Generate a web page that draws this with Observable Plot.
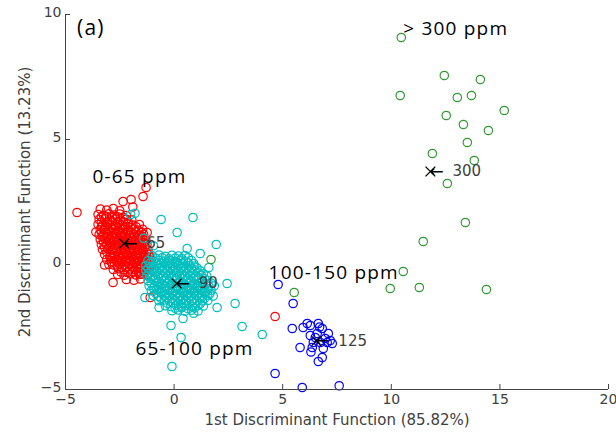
<!DOCTYPE html>
<html>
<head>
<meta charset="utf-8">
<script src="https://cdn.jsdelivr.net/npm/d3@7"></script>
<script src="https://cdn.jsdelivr.net/npm/@observablehq/plot@0.6"></script>
<style>
  html, body { margin: 0; padding: 0; background: white; }
</style>
</head>
<body>
<div id="chart"></div>
<script>
const xTicks = [-5, 0, 5, 10, 15, 20];
const yTicks = [-5, 0, 5, 10];
const xLabel = "1st Discriminant Function (85.82%)";
const yLabel = "2nd Discriminant Function (13.23%)";

// 0-65 ppm group (red)
const redPts = [
  [-3.4,2.22],[-3.1,2.18],[-2.8,2.24],[-2.5,2.15],
  [-3.5,2.0],[-3.25,1.97],[-3.0,2.03],[-2.75,1.98],[-2.5,2.02],[-2.2,1.96],
  [-3.45,1.8],[-3.2,1.83],[-2.95,1.78],[-2.7,1.82],[-2.45,1.77],[-2.2,1.81],[-1.95,1.79],
  [-3.5,1.6],[-3.3,1.57],[-3.05,1.62],[-2.85,1.58],[-2.6,1.61],[-2.4,1.57],[-2.15,1.62],[-1.9,1.58],[-1.6,1.6],
  [-3.4,1.4],[-3.2,1.43],[-3.0,1.38],[-2.8,1.42],[-2.55,1.37],[-2.35,1.41],[-2.1,1.38],[-1.85,1.42],[-1.65,1.37],[-1.45,1.41],
  [-3.45,1.2],[-3.25,1.17],[-3.05,1.22],[-2.85,1.18],[-2.65,1.21],[-2.45,1.17],[-2.25,1.22],[-2.05,1.18],[-1.85,1.21],[-1.6,1.17],[-1.4,1.2],
  [-3.4,1.0],[-3.2,1.03],[-2.95,0.98],[-2.75,1.02],[-2.55,0.97],[-2.35,1.01],[-2.15,0.98],[-1.95,1.03],[-1.75,0.97],[-1.55,1.01],[-1.3,0.98],
  [-3.35,0.8],[-3.1,0.77],[-2.9,0.82],[-2.7,0.78],[-2.5,0.81],[-2.3,0.77],[-2.1,0.82],[-1.9,0.78],[-1.7,0.81],[-1.5,0.77],[-1.25,0.8],
  [-3.3,0.6],[-3.05,0.63],[-2.85,0.58],[-2.65,0.62],[-2.45,0.57],[-2.25,0.61],[-2.05,0.58],[-1.85,0.62],[-1.65,0.57],[-1.45,0.61],[-1.2,0.58],
  [-3.2,0.4],[-2.95,0.37],[-2.75,0.42],[-2.55,0.38],[-2.35,0.41],[-2.15,0.37],[-1.95,0.42],[-1.75,0.38],[-1.55,0.41],[-1.35,0.37],[-1.15,0.4],
  [-3.1,0.2],[-2.85,0.23],[-2.65,0.18],[-2.45,0.22],[-2.25,0.17],[-2.05,0.21],[-1.85,0.18],[-1.65,0.22],[-1.45,0.17],[-1.25,0.21],[-1.05,0.18],
  [-3.0,0.0],[-2.75,-0.03],[-2.5,0.02],[-2.3,-0.02],[-2.1,0.03],[-1.9,-0.01],[-1.7,0.02],[-1.5,-0.03],[-1.3,0.01],[-1.1,-0.02],
  [-2.8,-0.2],[-2.55,-0.17],[-2.3,-0.22],[-2.05,-0.18],[-1.8,-0.21],[-1.6,-0.17],[-1.4,-0.22],[-1.15,-0.19],
  [-2.6,-0.4],[-2.3,-0.43],[-2.0,-0.38],[-1.75,-0.42],[-1.5,-0.39],[-1.25,-0.41],
  [-2.2,-0.6],[-1.85,-0.63],[-1.55,-0.58],
  [-3.35,1.9],[-3.1,1.92],[-2.85,1.88],[-2.6,1.91],[-2.35,1.89],
  [-3.35,1.7],[-3.1,1.68],[-2.85,1.72],[-2.6,1.69],[-2.35,1.71],[-2.1,1.68],
  [-3.35,1.5],[-3.15,1.52],[-2.9,1.48],[-2.7,1.51],[-2.5,1.49],[-2.25,1.52],[-2.0,1.48],[-1.75,1.51],
  [-3.35,1.3],[-3.15,1.28],[-2.95,1.32],[-2.75,1.29],[-2.55,1.31],[-2.35,1.28],[-2.15,1.32],[-1.95,1.29],[-1.75,1.31],[-1.5,1.29],
  [-3.3,1.1],[-3.1,1.12],[-2.85,1.08],[-2.65,1.11],[-2.45,1.09],[-2.25,1.12],[-2.05,1.08],[-1.85,1.11],[-1.65,1.09],[-1.45,1.12],
  [-3.25,0.9],[-3.0,0.88],[-2.8,0.92],[-2.6,0.89],[-2.4,0.91],[-2.2,0.88],[-2.0,0.92],[-1.8,0.89],[-1.6,0.91],[-1.4,0.88],
  [-3.2,0.7],[-2.95,0.72],[-2.75,0.68],[-2.55,0.71],[-2.35,0.69],[-2.15,0.72],[-1.95,0.68],[-1.75,0.71],[-1.55,0.69],[-1.35,0.72],
  [-3.1,0.5],[-2.85,0.48],[-2.65,0.52],[-2.45,0.49],[-2.25,0.51],[-2.05,0.48],[-1.85,0.52],[-1.65,0.49],[-1.45,0.51],[-1.25,0.48],
  [-2.95,0.3],[-2.75,0.32],[-2.55,0.28],[-2.35,0.31],[-2.15,0.29],[-1.95,0.32],[-1.75,0.28],[-1.55,0.31],[-1.35,0.29],[-1.15,0.32],
  [-2.9,0.1],[-2.6,0.08],[-2.4,0.12],[-2.2,0.09],[-2.0,0.11],[-1.8,0.08],[-1.6,0.12],[-1.4,0.09],[-1.2,0.11],
  [-2.6,-0.1],[-2.4,-0.12],[-2.15,-0.08],[-1.9,-0.11],[-1.7,-0.09],[-1.5,-0.12],[-1.25,-0.08],
  [-2.45,-0.3],[-2.15,-0.32],[-1.9,-0.28],[-1.6,-0.31],[-1.35,-0.29],
  [-4.47,2.08],[-1.29,3.08],[-1.43,2.72],[-2.35,2.52],[-1.98,2.6],[-1.9,2.3],[-1.24,1.28],
  [-2.81,-0.72],[-3.2,-0.02],[-1.1,-1.32],[4.65,-2.08],[-1.57,-0.38],[-3.6,1.3]
];

// 65-100 ppm group (cyan)
const cyanPts = [
  [-1.0,0.35],[-0.7,0.38],[-0.4,0.33],[-0.1,0.37],[0.2,0.34],[0.5,0.36],
  [-1.2,0.15],[-0.95,0.12],[-0.7,0.17],[-0.45,0.13],[-0.2,0.16],[0.05,0.12],[0.3,0.17],[0.55,0.13],[0.8,0.16],
  [-1.3,-0.05],[-1.05,-0.08],[-0.8,-0.03],[-0.55,-0.07],[-0.3,-0.04],[-0.05,-0.08],[0.2,-0.03],[0.45,-0.07],[0.7,-0.04],[0.95,-0.06],
  [-1.3,-0.25],[-1.05,-0.22],[-0.8,-0.27],[-0.55,-0.23],[-0.3,-0.26],[-0.05,-0.22],[0.2,-0.27],[0.45,-0.23],[0.7,-0.26],[0.95,-0.22],[1.2,-0.25],
  [-1.25,-0.45],[-1.0,-0.48],[-0.75,-0.43],[-0.5,-0.47],[-0.25,-0.44],[0.0,-0.48],[0.25,-0.43],[0.5,-0.47],[0.75,-0.44],[1.0,-0.48],[1.25,-0.43],[1.5,-0.46],
  [-1.2,-0.65],[-0.95,-0.62],[-0.7,-0.67],[-0.45,-0.63],[-0.2,-0.66],[0.05,-0.62],[0.3,-0.67],[0.55,-0.63],[0.8,-0.66],[1.05,-0.62],[1.3,-0.67],[1.55,-0.64],
  [-1.15,-0.85],[-0.9,-0.88],[-0.65,-0.83],[-0.4,-0.87],[-0.15,-0.84],[0.1,-0.88],[0.35,-0.83],[0.6,-0.87],[0.85,-0.84],[1.1,-0.88],[1.35,-0.83],[1.6,-0.87],[1.85,-0.85],
  [-1.05,-1.05],[-0.8,-1.02],[-0.55,-1.07],[-0.3,-1.03],[-0.05,-1.06],[0.2,-1.02],[0.45,-1.07],[0.7,-1.03],[0.95,-1.06],[1.2,-1.02],[1.45,-1.07],[1.7,-1.04],
  [-0.95,-1.25],[-0.7,-1.28],[-0.45,-1.23],[-0.2,-1.27],[0.05,-1.24],[0.3,-1.28],[0.55,-1.23],[0.8,-1.27],[1.05,-1.24],[1.3,-1.28],[1.55,-1.23],[1.8,-1.26],
  [-0.7,-1.45],[-0.45,-1.42],[-0.2,-1.47],[0.05,-1.43],[0.3,-1.46],[0.55,-1.42],[0.8,-1.47],[1.05,-1.43],[1.3,-1.46],[1.55,-1.44],
  [-0.4,-1.65],[-0.15,-1.68],[0.1,-1.63],[0.35,-1.67],[0.6,-1.64],[0.85,-1.68],[1.1,-1.63],[1.35,-1.66],
  [-0.1,-1.85],[0.2,-1.82],[0.5,-1.87],[0.8,-1.83],[1.1,-1.86],
  [-0.85,0.25],[-0.55,0.27],[-0.25,0.23],[0.05,0.26],[0.35,0.24],[0.65,0.27],
  [-1.1,0.05],[-0.85,0.07],[-0.6,0.03],[-0.35,0.06],[-0.1,0.04],[0.15,0.07],[0.4,0.03],[0.65,0.06],[0.9,0.04],
  [-1.2,-0.15],[-0.95,-0.13],[-0.7,-0.17],[-0.45,-0.14],[-0.2,-0.16],[0.05,-0.13],[0.3,-0.17],[0.55,-0.14],[0.8,-0.16],[1.05,-0.13],
  [-1.15,-0.35],[-0.9,-0.33],[-0.65,-0.37],[-0.4,-0.34],[-0.15,-0.36],[0.1,-0.33],[0.35,-0.37],[0.6,-0.34],[0.85,-0.36],[1.1,-0.33],[1.35,-0.37],
  [-1.1,-0.55],[-0.85,-0.53],[-0.6,-0.57],[-0.35,-0.54],[-0.1,-0.56],[0.15,-0.53],[0.4,-0.57],[0.65,-0.54],[0.9,-0.56],[1.15,-0.53],[1.4,-0.57],
  [-1.05,-0.75],[-0.8,-0.73],[-0.55,-0.77],[-0.3,-0.74],[-0.05,-0.76],[0.2,-0.73],[0.45,-0.77],[0.7,-0.74],[0.95,-0.76],[1.2,-0.73],[1.45,-0.77],[1.7,-0.74],
  [-0.95,-0.95],[-0.7,-0.93],[-0.45,-0.97],[-0.2,-0.94],[0.05,-0.96],[0.3,-0.93],[0.55,-0.97],[0.8,-0.94],[1.05,-0.96],[1.3,-0.93],[1.55,-0.97],
  [-0.85,-1.15],[-0.6,-1.13],[-0.35,-1.17],[-0.1,-1.14],[0.15,-1.16],[0.4,-1.13],[0.65,-1.17],[0.9,-1.14],[1.15,-1.16],[1.4,-1.13],[1.65,-1.17],
  [-0.6,-1.35],[-0.35,-1.33],[-0.1,-1.37],[0.15,-1.34],[0.4,-1.36],[0.65,-1.33],[0.9,-1.37],[1.15,-1.34],[1.4,-1.36],
  [-0.3,-1.55],[-0.05,-1.53],[0.2,-1.57],[0.45,-1.54],[0.7,-1.56],[0.95,-1.53],[1.2,-1.57],
  [0.05,-1.75],[0.35,-1.73],[0.65,-1.77],[0.95,-1.74],
  [-0.6,1.8],[0.87,1.88],[0.14,1.28],[0.6,0.64],[1.94,0.8],[1.2,0.44],[1.6,-0.12],[2.44,-0.76],
  [2.81,-1.56],[1.98,-1.72],[-0.14,-2.44],[0.41,-2.16],[0.9,-1.95],[0.32,-2.92],[-0.1,-4.08],
  [3.13,-2.48],[4.06,-2.8],[-1.34,-1.32],[-0.69,-1.72],[-2.0,2.0],[-1.8,2.05],[-1.4,1.05],[-0.95,0.75]
];

// 100-150 ppm group (blue)
const bluePts = [
  [4.79,-0.8],[5.48,-1.56],[5.44,-2.56],[5.8,-3.32],[4.65,-4.36],[5.9,-4.92],[7.6,-4.85],
  [6.13,-2.36],[5.94,-2.52],[6.27,-2.44],[6.64,-2.36],[6.82,-2.56],[7.1,-2.76],[7.19,-3.04],
  [7.28,-3.16],[6.87,-3.36],[6.82,-3.72],[6.64,-3.88],[6.36,-3.32],[6.5,-2.92],[6.59,-2.76],
  [6.96,-2.96],[6.73,-3.12],[6.41,-3.12],[6.27,-2.84],[7.05,-3.12],[6.7,-2.5],[6.3,-3.5]
];

// > 300 ppm group (green)
const greenPts = [
  [10.46,9.08],[12.44,7.56],[14.1,7.4],[10.41,6.76],[13.04,6.68],[13.69,6.76],[15.2,6.16],
  [12.53,5.96],[13.32,5.6],[14.47,5.36],[13.5,4.88],[11.89,4.44],[13.82,4.16],[12.58,3.24],
  [13.41,1.68],[11.47,0.92],[10.55,-0.28],[9.95,-0.96],[11.29,-0.92],[14.38,-1.0],
  [1.7,0.2],[5.53,-1.12]
];

const groupNames = ["0-65 ppm", "65-100 ppm", "100-150 ppm", "> 300 ppm"];
const groupColors = ["#ff0000", "#00bfbf", "#0000ff", "#339933"];

// centroids of each class
const centroidX = [-2.3, 0.12, 6.55, 11.8];
const centroidY = [0.84, -0.76, -3.06, 3.72];
const centroidLabels = ["65", "90", "125", "300"];

// group labels placed on the chart
const annLabels = ["(a)", "0-65 ppm", "65-100 ppm", "100-150 ppm", "> 300 ppm"];
const annX = [-4.47, -3.76, -1.78, 4.35, 10.55];
const annY = [9.46, 3.52, -3.36, -0.35, 9.44];

const points = [];
[redPts, cyanPts, bluePts, greenPts].forEach((arr, g) =>
  arr.forEach(([x, y]) => points.push({x, y, group: groupNames[g]})));
const centroids = centroidX.map((x, i) => ({x, y: centroidY[i], label: centroidLabels[i]}));
const anns = annLabels.map((t, i) => ({x: annX[i], y: annY[i], label: t}));

const W = 616, H = 438, mL = 65, mR = 8, mT = 14, mB = 49;
const plotW = W - mL - mR, plotH = H - mT - mB;

const chart = Plot.plot({
  width: W, height: H,
  marginLeft: mL, marginRight: mR, marginTop: mT, marginBottom: mB,
  x: {domain: [-5, 20]},
  y: {domain: [-5, 10]},
  color: {domain: groupNames, range: groupColors},
  style: {fontFamily: "DejaVu Sans", fontSize: "14px", color: "#404040", background: "white"},
  marks: [
    Plot.dot(points, {x: "x", y: "y", stroke: "group", r: 4.2, strokeWidth: 1.2, fill: "none"}),
    Plot.ruleX([-5], {stroke: "#444", strokeWidth: 1}),
    Plot.ruleY([-5], {stroke: "#444", strokeWidth: 1}),
    Plot.ruleX(xTicks, {stroke: "#444", insetTop: plotH - 5}),
    Plot.ruleY(yTicks, {stroke: "#444", insetRight: plotW - 5}),
    Plot.axisX({ticks: xTicks, tickSize: 0, tickPadding: 5, label: null, fontSize: 14}),
    Plot.axisY({ticks: yTicks, tickSize: 0, tickPadding: 4, label: null, fontSize: 14, dy: -2}),
    Plot.text([xLabel], {frameAnchor: "bottom", dy: 35, text: d => d, textAnchor: "middle", fontSize: 15, fill: "#404040"}),
    Plot.text([yLabel], {frameAnchor: "left", dx: -40, text: d => d, rotate: -90, textAnchor: "middle", fontSize: 15, fill: "#404040"}),
    Plot.dot(centroids, {x: "x", y: "y", symbol: "times", r: 4.5, stroke: "black", strokeWidth: 1.3}),
    Plot.text(centroids, {x: "x", y: "y", text: d => "\u2190", textAnchor: "start", dx: -1, fontSize: 17, fill: "black"}),
    Plot.text(centroids, {x: "x", y: "y", text: "label", textAnchor: "start", dx: 22, fontSize: 15, fill: "#404040"}),
    Plot.text(anns, {x: "x", y: "y", text: "label", textAnchor: "start", fontFamily: "Open Sans", fontSize: d => d.label === "(a)" ? 21 : 19, fill: "black"})
  ]
});
d3.select(chart).selectAll('g[font-family="Open Sans"] text').style("letter-spacing", "1.2px");
document.getElementById("chart").appendChild(chart);
</script>
</body>
</html>
